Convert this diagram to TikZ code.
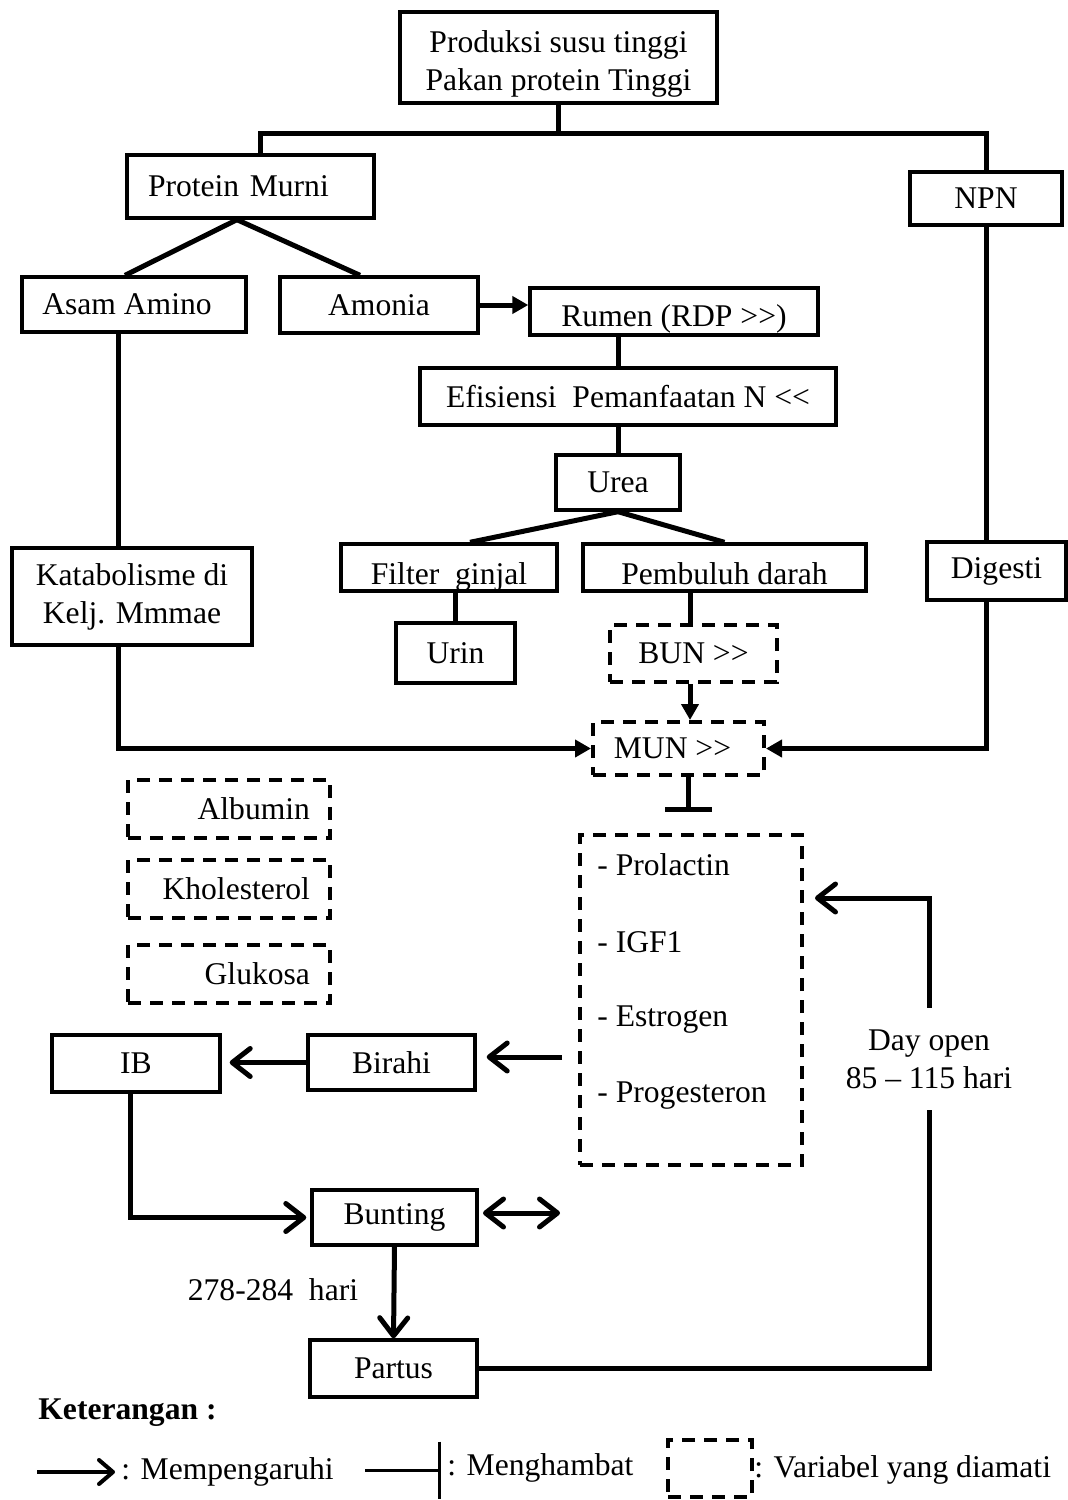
\documentclass[tikz,border=0pt]{standalone}
\usepackage{fontspec}
\setmainfont{Liberation Serif}
\usetikzlibrary{arrows.meta,calc}
\begin{document}
\begin{tikzpicture}[x=0.5pt,y=-0.5pt,
  font=\fontsize{15.8}{19}\selectfont,
  box/.style={draw, line width=1.7pt, inner sep=0pt, align=center},
  dbox/.style={draw, line width=2pt, dash pattern=on 6.5pt off 4.5pt, inner sep=0pt, align=center},
  conn/.style={line width=2.5pt},
  tri/.style={conn, -{Triangle[length=8pt,width=8.5pt]}},
  barb/.style={conn, -{Straight Barb[length=9pt,width=14pt,round]}},
  plain/.style={inner sep=0pt},
  lowtext/.style={text height=#1, text depth=2.5pt}
]
\useasboundingbox (0,0) rectangle (1068,1500);

% boxes
\node[box, minimum width=158.5pt, minimum height=45.5pt] (top) at (558.5,57.5) {};
\node[plain, align=center] (toptext) at (558.5,63.5) {Produksi susu tinggi\\Pakan protein Tinggi};
\node[box, minimum width=123.5pt, minimum height=31.5pt, text width=102.5pt, align=left] (pm) at (250.5,186.5) {Protein Murni};
\node[box, minimum width=76pt, minimum height=26.5pt] (npn) at (986,198.5) {NPN};
\node[box, minimum width=112pt, minimum height=27.5pt] (aa) at (134,304.5) {\hspace*{-7pt}Asam Amino};
\node[box, minimum width=99pt, minimum height=28pt] (am) at (379,305) {Amonia};
\node[box, minimum width=144pt, minimum height=23.5pt, lowtext=17.5pt] (rum) at (674,311.5) {Rumen (RDP >{}>)};
\node[box, minimum width=208pt, minimum height=28.5pt] (eff) at (628,396.5) {Efisiensi\ \ Pemanfaatan N <{}<};
\node[box, minimum width=62pt, minimum height=27.5pt] (urea) at (618,482.5) {Urea};
\node[box, minimum width=108pt, minimum height=23.5pt, lowtext=19.5pt] (fil) at (449,567.5) {Filter\ \ ginjal};
\node[box, minimum width=141.5pt, minimum height=23.5pt, lowtext=19.5pt] (pem) at (724.5,567.5) {Pembuluh darah};
\node[box, minimum width=59.5pt, minimum height=30pt] (urin) at (455.5,653) {Urin};
\node[dbox, minimum width=83.5pt, minimum height=28.5pt] (bun) at (693.5,653.5) {BUN >{}>};
\node[dbox, minimum width=85.5pt, minimum height=26.5pt] (mun) at (678.5,748.5) {\hspace*{-6pt}MUN >{}>};
\node[box, minimum width=120pt, minimum height=48.5pt] (kat) at (132,596.5) {Katabolisme di\\Kelj. Mmmae};
\node[box, minimum width=69.5pt, minimum height=29pt] (dig) at (996.5,571) {Digesti};
\node[dbox, minimum width=111pt, minimum height=165pt] (horm) at (691,1000) {};
\node[plain, anchor=west] (h1) at (597,865) {- Prolactin};
\node[plain, anchor=west] (h2) at (597,942) {- IGF1};
\node[plain, anchor=west] (h3) at (597,1020) {- Estrogen};
\node[plain, anchor=west] (h4) at (597,1096) {- Progesteron};
\node[dbox, minimum width=101pt, minimum height=29pt, text width=81pt, align=right] (alb) at (229,809) {Albumin};
\node[dbox, minimum width=101pt, minimum height=29pt, text width=81pt, align=right] (kho) at (229,889) {Kholesterol};
\node[dbox, minimum width=101pt, minimum height=29pt, text width=81pt, align=right] (glu) at (229,974) {Glukosa};
\node[box, minimum width=83.5pt, minimum height=27.5pt] (bir) at (391.5,1062.5) {Birahi};
\node[box, minimum width=84pt, minimum height=28.5pt] (ib) at (136,1063.5) {IB};
\node[box, minimum width=82.5pt, minimum height=27.5pt] (bun2) at (394.5,1217.5) {Bunting};
\node[box, minimum width=83.5pt, minimum height=28.5pt] (par) at (393.5,1368.5) {Partus};
\node[plain, align=center, minimum height=51pt] (day) at (929,1059) {Day open\\85 -- 115 hari};
\node[plain] (lab) at (273,1290) {278-284\ \ hari};

% connectors
\coordinate (split) at (558.5,133);
\draw[conn] (top.south) -- (split);
\draw[conn] ([xshift=4.75pt]pm.north) |- (split) -| (npn.north);
\draw[conn] ([xshift=-6.75pt]pm.south) -- ([xshift=-4.5pt]aa.north);
\draw[conn] ([xshift=-6.75pt]pm.south) -- ([xshift=-9.5pt]am.north);
\draw[tri] (am.east) -- (am.east -| rum.west);
\draw[conn] (rum.south -| urea.north) -- (eff.north -| urea.north);
\draw[conn] (eff.south -| urea.north) -- (urea.north);
\draw[conn] (urea.south) -- ([xshift=10.5pt]fil.north);
\draw[conn] (urea.south) -- (pem.north);
\draw[conn] (urin.north |- fil.south) -- (urin.north);
\coordinate (bunx) at ([xshift=-1.75pt]bun.north);
\draw[conn] (bunx |- pem.south) -- (bunx);
\draw[tri] (bunx |- bun.south) -- (bunx |- mun.north);
\coordinate (lx) at ([xshift=-7pt]kat.north);
\draw[conn] (lx |- aa.south) -- (lx);
\draw[tri] (lx |- kat.south) |- (mun.west);
\draw[conn] (npn.south) -- (npn.south |- dig.north);
\draw[tri] (npn.south |- dig.south) |- (mun.east);
\coordinate (inh) at ([xshift=4.75pt]mun.south);
\coordinate (inhend) at (688,812);
\draw[conn, -{Bar[width=23.5pt]}] (inh) -- (inhend);
\coordinate (hb) at (562,1057);
\draw[barb, shorten >=5pt] (hb) -- (hb -| bir.east);
\draw[barb, shorten >=4pt] (bir.west) -- (bir.west -| ib.east);
\coordinate (ibx) at ([xshift=-3pt]ib.south);
\draw[barb, shorten >=2pt] (ibx) |- (bun2.west);
\coordinate (da1) at (483,1213);
\coordinate (da2) at (560,1213);
\draw[conn, {Straight Barb[length=9pt,width=14pt,round]}-{Straight Barb[length=9pt,width=14pt,round]}] (da1) -- (da2);
\draw[barb] (bun2.south) -- (par.north);
\draw[conn] (par.east) -| (day.south);
\coordinate (dayend) at (815,898);
\draw[barb] (day.north) |- (dayend);

% legend
\node[plain, anchor=west, font=\fontsize{15.8}{19}\selectfont\bfseries] (ket) at (38,1413) {Keterangan :};
\coordinate (l1a) at (37,1472);
\coordinate (l1b) at (115,1472);
\draw[conn, line width=2pt, -{Straight Barb[length=7pt,width=12pt,round]}] (l1a) -- (l1b);
\node[plain, anchor=west] (t1) at (121,1472) {: Mempengaruhi};
\coordinate (l2a) at (365,1470);
\coordinate (l2b) at (441,1470);
\draw[conn, line width=1.5pt, -{Bar[width=28.5pt]}] (l2a) -- (l2b);
\node[plain, anchor=west] (t2) at (447,1468) {: Menghambat};
\node[dbox, minimum width=42pt, minimum height=28.5pt] (l3) at (710,1468.5) {};
\node[plain, anchor=west] (t3) at (754,1470) {: Variabel yang diamati};
\end{tikzpicture}
\end{document}
